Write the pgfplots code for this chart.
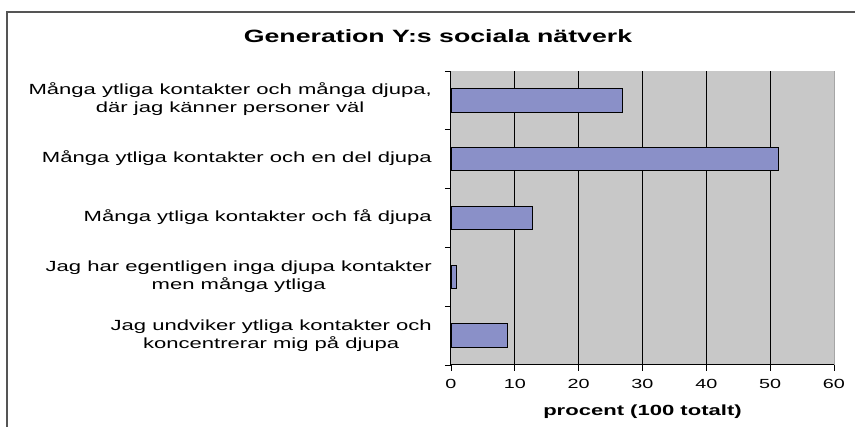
\documentclass[border=0pt]{standalone}
\usepackage{graphicx}
\usepackage{pgfplots}
\pgfplotsset{compat=1.18}
\usepackage{fontspec}
\setmainfont{Liberation Sans}
\definecolor{barfill}{RGB}{138,144,200}
\definecolor{plotbg}{RGB}{200,200,200}
\definecolor{framegray}{RGB}{85,85,85}
\newcommand{\sx}[1]{\scalebox{1.5}[1]{#1}}
\newcommand{\lab}[1]{\sx{\begin{tabular}{@{}c@{}}#1\end{tabular}}}
\begin{document}
\begin{tikzpicture}[x=1pt,y=1pt]
\useasboundingbox (0,0) rectangle (855,427);
\clip (0,0) rectangle (855,427);
\draw[line width=2pt, framegray] (7,-20) rectangle (900,415);
\node[anchor=base, font=\bfseries\fontsize{17.8}{20}\selectfont] at (438,384.3) {\sx{Generation Y:s sociala nätverk}};
\begin{axis}[
  at={(451pt,62pt)}, anchor=origin,
  scale only axis, width=383pt, height=294pt,
  xmin=0, xmax=60, ymin=0.5, ymax=5.5,
  axis background/.style={fill=plotbg},
  axis line style={draw=none},
  xtick pos=bottom, ytick pos=left,
  xtick={0,10,...,60},
  xticklabel={\sx{\pgfmathprintnumber{\tick}}},
  xticklabel style={font=\fontsize{13.2}{15}\selectfont, yshift=-5pt},
  /pgf/number format/assume math mode=true,
  extra x ticks={10,20,30,40,50},
  extra x tick labels={},
  extra x tick style={grid=major, tick style={draw=none}, major grid style={black, line width=0.9pt}},
  ytick={0.5,1.5,...,5.5},
  yticklabels={},
  extra y ticks={1,2,3,4,5},
  extra y tick labels={
    \lab{Jag undviker ytliga kontakter och\\koncentrerar mig på djupa},
    \lab{Jag har egentligen inga djupa kontakter\\men många ytliga},
    \lab{Många ytliga kontakter och få djupa},
    \lab{Många ytliga kontakter och en del djupa},
    \lab{Många ytliga kontakter och många djupa,\\där jag känner personer väl}},
  extra y tick style={tick style={draw=none}, yticklabel style={font=\fontsize{14.7}{18}\selectfont, anchor=east, inner sep=0pt, xshift=-13pt}},
  tick align=outside,
  major tick length=6pt,
  tick style={black, line width=0.8pt},
  xlabel={\sx{procent (100 totalt)}},
  xlabel style={font=\bfseries\fontsize{14.7}{17}\selectfont, yshift=3pt},
  clip=false,
]
\addplot[xbar, bar width=23.3pt, fill=barfill, draw=black, line width=0.9pt]
  coordinates {(8.8,1) (0.8,2) (12.8,3) (51.3,4) (26.8,5)};
\draw[black, line width=1pt] (axis cs:0,0.5) -- (axis cs:0,5.5);
\draw[black, line width=1pt] (axis cs:0,0.5) -- (axis cs:60,0.5);
\draw[gray!70, line width=0.8pt] (axis cs:60,0.5) -- (axis cs:60,5.5);
\end{axis}
\end{tikzpicture}
\end{document}
